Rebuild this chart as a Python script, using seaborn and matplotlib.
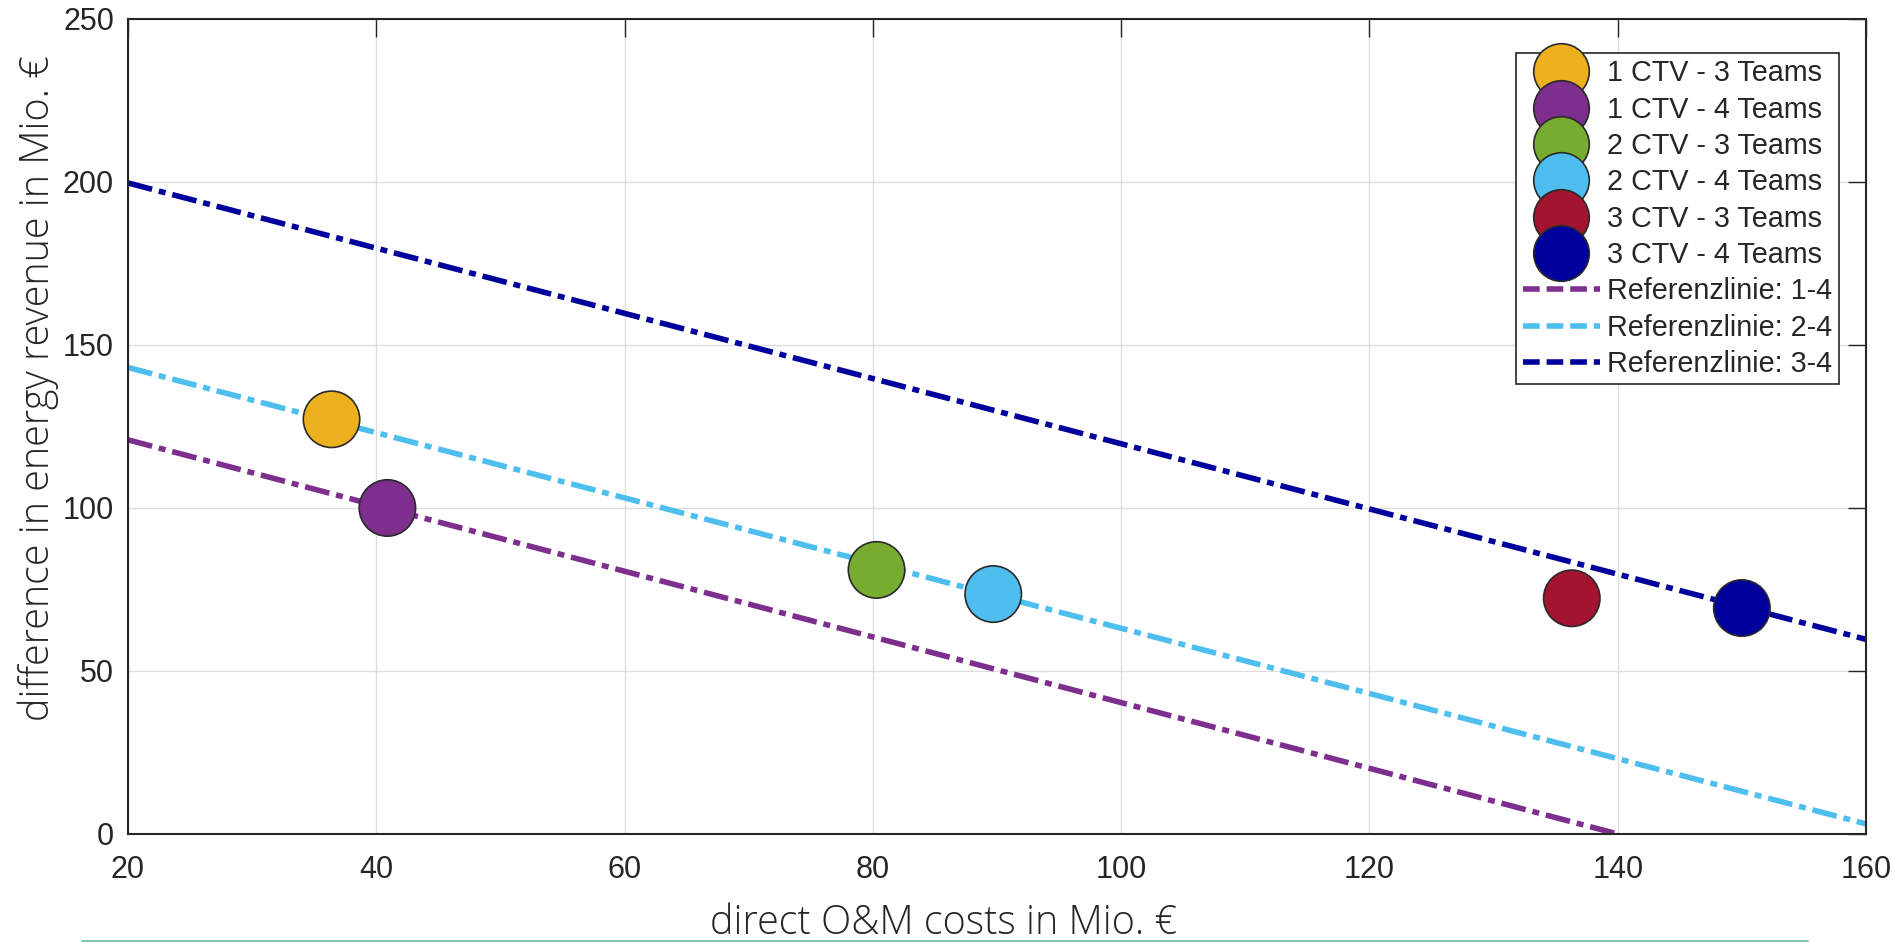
import numpy as np
import pandas as pd
import seaborn as sns
import matplotlib.pyplot as plt
from matplotlib.lines import Line2D

sns.set_style("white")
plt.rcParams['font.family'] = ['Liberation Sans', 'DejaVu Sans']
plt.rcParams['lines.scale_dashes'] = False

# scenarios
labels = ['1 CTV - 3 Teams', '1 CTV - 4 Teams', '2 CTV - 3 Teams',
          '2 CTV - 4 Teams', '3 CTV - 3 Teams', '3 CTV - 4 Teams']
om_costs = [36.4, 40.9, 80.3, 89.7, 136.3, 150.0]
revenue_diff = [127.2, 100.0, 81.0, 73.6, 72.3, 69.3]
colors = ['#EDB120', '#7E2F8E', '#77AC30', '#4DBEEE', '#A2142F', '#00009C']

# reference lines, start and end points
ref_labels = ['Referenzlinie: 1-4', 'Referenzlinie: 2-4', 'Referenzlinie: 3-4']
ref_x_14 = [20, 140]
ref_y_14 = [120.9, 0.0]
ref_x_24 = [20, 160]
ref_y_24 = [143.1, 3.1]
ref_x_34 = [20, 160]
ref_y_34 = [199.7, 59.7]
ref_colors = ['#7E2F8E', '#4DBEEE', '#00009C']

pts = pd.DataFrame({'x': om_costs, 'y': revenue_diff, 'scen': labels})

fig = plt.figure(figsize=(18.95, 9.43), dpi=100)
ax = fig.add_axes([0.0675, 0.1156, 0.9172, 0.8643])

dash = (18, 5, 5, 5)
for xs, ys, c in zip([ref_x_14, ref_x_24, ref_x_34],
                     [ref_y_14, ref_y_24, ref_y_34], ref_colors):
    sns.lineplot(x=xs, y=ys, color=c, lw=4, ax=ax, legend=False,
                 dashes=False).lines[-1].set_dashes(dash)

sns.scatterplot(data=pts, x='x', y='y', hue='scen', palette=colors, s=1650,
                edgecolor='#2a2a2a', linewidth=1.2, ax=ax, legend=False, zorder=3)

ax.set_xlim(20, 160)
ax.set_ylim(0, 250)
ax.set_xticks(np.arange(20, 161, 20))
ax.set_yticks(np.arange(0, 251, 50))
ax.grid(True, color='#dedede', lw=1)
ax.set_axisbelow(True)
ax.tick_params(direction='in', length=13, width=1, colors='#262626',
               labelsize=22, top=True, right=True, pad=10)
ax.tick_params(axis='x', pad=15)
for sp in ax.spines.values():
    sp.set_color('#262626')
    sp.set_linewidth(1.5)

lab_font = dict(family=['Open Sans', 'DejaVu Sans'], fontsize=28.5, weight='light')
ax.set_xlabel('direct O&M costs in Mio. €', labelpad=13, **lab_font)
ax.set_ylabel('difference in energy revenue in Mio. €', labelpad=3, **lab_font)
ax.xaxis.label.set_x(0.4695)
ax.yaxis.label.set_y(0.547)

handles = [Line2D([], [], ls='none', marker='o', ms=40, mfc=c,
                  mec='#2a2a2a', mew=1.2) for c in colors]
handles += [Line2D([], [], color=c, lw=4, dashes=(12, 5)) for c in ref_colors]
leg = ax.legend(handles, labels + ref_labels, loc='upper right', fontsize=20.7,
                handlelength=2.7, labelspacing=0.29, borderaxespad=0,
                bbox_to_anchor=(1839 / 1895, 1 - 53 / 943),
                bbox_transform=fig.transFigure,
                frameon=True, fancybox=False, framealpha=1, handletextpad=0.25,
                borderpad=0.22)
leg.get_frame().set_edgecolor('#262626')
leg.get_frame().set_linewidth(1.2)

fig.add_artist(Line2D([82 / 1895, 1808 / 1895], [2 / 943, 2 / 943],
                      color='#7fc8a9', lw=1.5))

fig.savefig('out.png', dpi=100)
